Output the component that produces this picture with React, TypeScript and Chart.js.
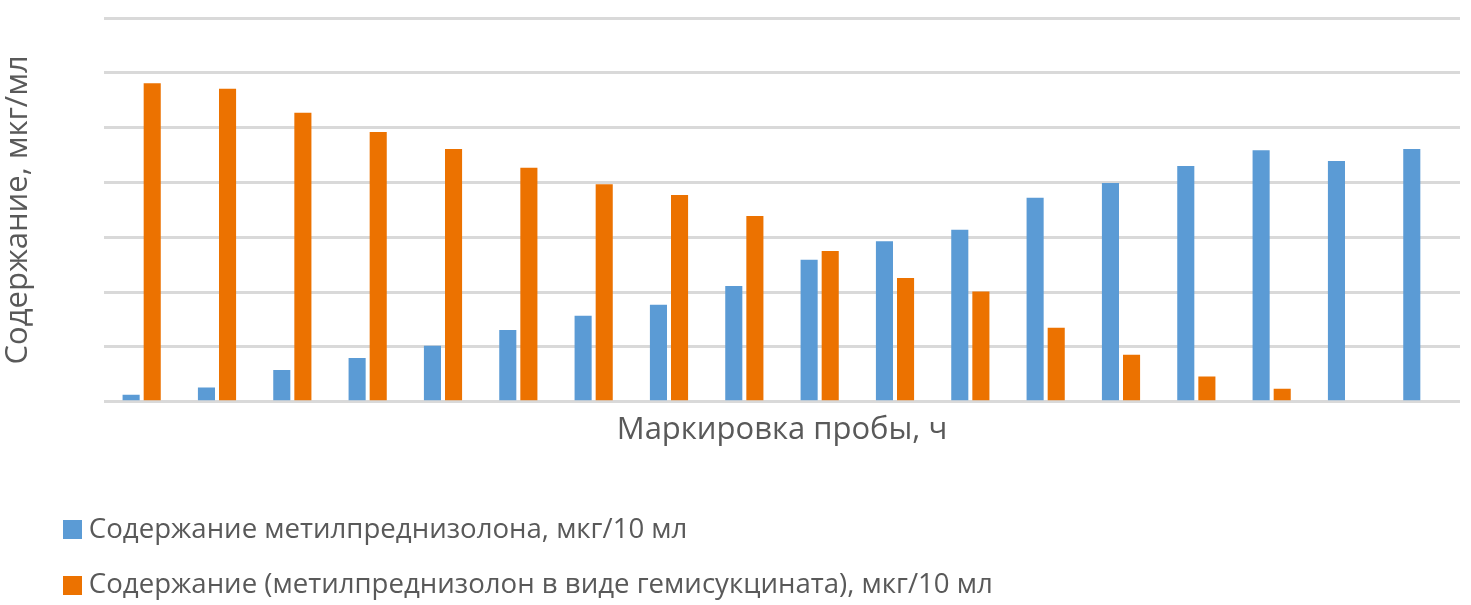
import React, { useEffect, useRef } from "react";
import { Chart } from "chart.js/auto";

const labels = ["1", "2", "3", "4", "5", "6", "7", "8", "9", "10", "11", "12", "13", "14", "15", "16", "17", "18"];
const freeValues = [0.13, 0.26, 0.58, 0.8, 1.02, 1.31, 1.57, 1.77, 2.11, 2.59, 2.93, 3.14, 3.72, 3.99, 4.3, 4.59, 4.39, 4.61];
const esterValues = [5.81, 5.71, 5.27, 4.92, 4.61, 4.27, 3.97, 3.77, 3.39, 2.75, 2.26, 2.01, 1.35, 0.86, 0.46, 0.24, 0, 0];
const seriesNames = [
  "Содержание метилпреднизолона, мкг/10 мл",
  "Содержание (метилпреднизолон в виде гемисукцината), мкг/10 мл",
];
const seriesColors = ["#5B9BD5", "#EC7200"];

const FONT = "'Open Sans', sans-serif";
const TEXT = "#595959";

// square legend swatch, drawn as an image so the text sits close to it
const makeSwatch = (color: string) => {
  const c = document.createElement("canvas");
  c.width = 19;
  c.height = 19;
  const g = c.getContext("2d");
  if (g) {
    g.fillStyle = color;
    g.fillRect(0, 0, 19, 19);
  }
  return c;
};

const App: React.FC = () => {
  const chartRef = useRef<Chart | null>(null);
  const canvasRef = useRef<HTMLCanvasElement | null>(null);

  useEffect(() => {
    const ctx = canvasRef.current?.getContext("2d");
    if (!ctx) return;
    if (chartRef.current) chartRef.current.destroy();

    const swatches = seriesColors.map(makeSwatch);

    chartRef.current = new Chart(ctx, {
      type: "bar",
      data: {
        labels,
        datasets: [
          {
            label: seriesNames[0],
            data: freeValues,
            backgroundColor: seriesColors[0],
            categoryPercentage: 0.56,
            barPercentage: 0.81,
          },
          {
            label: seriesNames[1],
            data: esterValues,
            backgroundColor: seriesColors[1],
            categoryPercentage: 0.56,
            barPercentage: 0.81,
          },
        ],
      },
      options: {
        animation: false,
        responsive: false,
        layout: { padding: { left: 42.1, right: 11, top: 18, bottom: -4 } },
        scales: {
          x: {
            grid: { display: false },
            border: { display: false },
            ticks: { display: false },
            title: {
              display: true,
              text: "Маркировка пробы, ч",
              color: TEXT,
              font: { family: FONT, size: 31 },
              padding: { top: 2, bottom: 39 },
            },
          },
          y: {
            min: 0,
            max: 7,
            ticks: { display: false, stepSize: 1 },
            border: { display: false },
            grid: { color: "#D9D9D9", lineWidth: 3, drawTicks: false },
            title: {
              display: true,
              text: "Содержание, мкг/мл",
              color: TEXT,
              font: { family: FONT, size: 31 },
              padding: { top: -42.6, bottom: 0 },
            },
            afterFit: (scale: any) => {
              scale.width = 61.9;
            },
          },
        },
        plugins: {
          legend: {
            position: "bottom",
            align: "start",
            labels: {
              color: TEXT,
              font: { family: FONT, size: 27.6 },
              usePointStyle: true,
              pointStyleWidth: 5,
              boxHeight: 19,
              padding: 27.9,
              generateLabels: (chart: any) => {
                const items = Chart.defaults.plugins.legend.labels.generateLabels(chart);
                items.forEach((item: any, i: number) => {
                  item.pointStyle = swatches[i];
                });
                return items;
              },
            },
          },
          tooltip: { enabled: false },
        },
      },
    });

    return () => {
      if (chartRef.current) {
        chartRef.current.destroy();
        chartRef.current = null;
      }
    };
  }, []);

  return (
    <div style={{ position: "fixed", left: 0, top: 0, width: 1471, height: 605, background: "#fff" }}>
      <canvas ref={canvasRef} width={1471} height={605}></canvas>
    </div>
  );
};

export default App;
